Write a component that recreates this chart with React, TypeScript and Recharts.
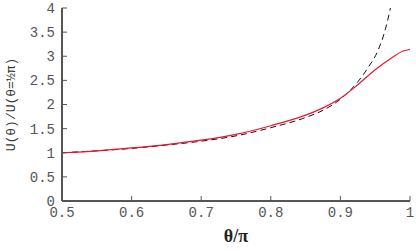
import { LineChart, Line, XAxis, YAxis, Label } from 'recharts'

const thetaRed = [0.5, 0.55, 0.6, 0.65, 0.7, 0.75, 0.8, 0.85, 0.875, 0.9, 0.925, 0.95, 0.975, 0.99, 1.0]
const ratioRed = [1.0, 1.04, 1.1, 1.17, 1.26, 1.38, 1.56, 1.78, 1.93, 2.13, 2.41, 2.72, 2.98, 3.11, 3.14]

const thetaDash = [0.5, 0.55, 0.6, 0.65, 0.7, 0.75, 0.8, 0.85, 0.875, 0.9, 0.925, 0.94, 0.954, 0.965, 0.971, 0.976]
const ratioDash = [1.0, 1.04, 1.09, 1.16, 1.24, 1.35, 1.52, 1.73, 1.88, 2.11, 2.47, 2.77, 3.12, 3.58, 3.94, 4.3]

const xTicks = [0.5, 0.6, 0.7, 0.8, 0.9, 1]
const yTicks = [0, 0.5, 1, 1.5, 2, 2.5, 3, 3.5, 4]

const redData = thetaRed.map((t, i) => ({ t, u: ratioRed[i] }))
const dashData = thetaDash.map((t, i) => ({ t, u: ratioDash[i] }))

const axisColor = '#555555'
const axisLine = { stroke: axisColor, strokeWidth: 2 }
const tickLine = { stroke: axisColor, strokeWidth: 1 }
const tickFont = { fontFamily: '"Liberation Mono", monospace', fontSize: 14, fill: '#555555' }

export default function App() {
    return (
        <div style={{ position: 'absolute', left: 0, top: 0, width: 416, height: 251, background: '#fff' }}>
            <LineChart width={416} height={251} margin={{ top: 8, right: 6, left: 22, bottom: 0 }}>
                <XAxis
                    xAxisId="b"
                    type="number"
                    dataKey="t"
                    domain={[0.5, 1]}
                    ticks={xTicks}
                    tickFormatter={(v: number) => String(v)}
                    height={50}
                    axisLine={axisLine}
                    tickLine={tickLine}
                    tickSize={-5}
                    tickMargin={11}
                    tick={tickFont}
                    allowDataOverflow
                >
                    <Label
                        value="θ/π"
                        position="insideBottom"
                        offset={9}
                        style={{ fontFamily: '"Liberation Serif", serif', fontWeight: 'bold', fontSize: 18, fill: '#222' }}
                    />
                </XAxis>
                <XAxis
                    xAxisId="t"
                    orientation="top"
                    type="number"
                    dataKey="t"
                    domain={[0.5, 1]}
                    ticks={xTicks}
                    height={0}
                    axisLine={axisLine}
                    tickLine={tickLine}
                    tickSize={-5}
                    tickFormatter={() => ''}
                    allowDataOverflow
                />
                <YAxis
                    yAxisId="l"
                    type="number"
                    domain={[0, 4]}
                    ticks={yTicks}
                    width={40}
                    axisLine={axisLine}
                    tickLine={tickLine}
                    tickSize={-5}
                    tickMargin={12}
                    tick={tickFont}
                    allowDataOverflow
                >
                    <Label
                        value="U(θ)/U(θ=½π)"
                        angle={-90}
                        position="insideLeft"
                        offset={-12}
                        style={{ textAnchor: 'middle', fontFamily: '"Liberation Mono", monospace', fontSize: 13, fill: '#333' }}
                    />
                </YAxis>
                <YAxis
                    yAxisId="r"
                    orientation="right"
                    type="number"
                    domain={[0, 4]}
                    ticks={yTicks}
                    width={0}
                    axisLine={axisLine}
                    tickLine={tickLine}
                    tickSize={-5}
                    tickFormatter={() => ''}
                    allowDataOverflow
                />
                <Line
                    xAxisId="b"
                    yAxisId="l"
                    data={dashData}
                    dataKey="u"
                    type="monotone"
                    stroke="#111"
                    strokeWidth={1}
                    strokeDasharray="6 4"
                    dot={false}
                    isAnimationActive={false}
                />
                <Line
                    xAxisId="b"
                    yAxisId="l"
                    data={redData}
                    dataKey="u"
                    type="monotone"
                    stroke="#ee1133"
                    strokeWidth={1.2}
                    dot={false}
                    isAnimationActive={false}
                />
            </LineChart>
        </div>
    )
}
